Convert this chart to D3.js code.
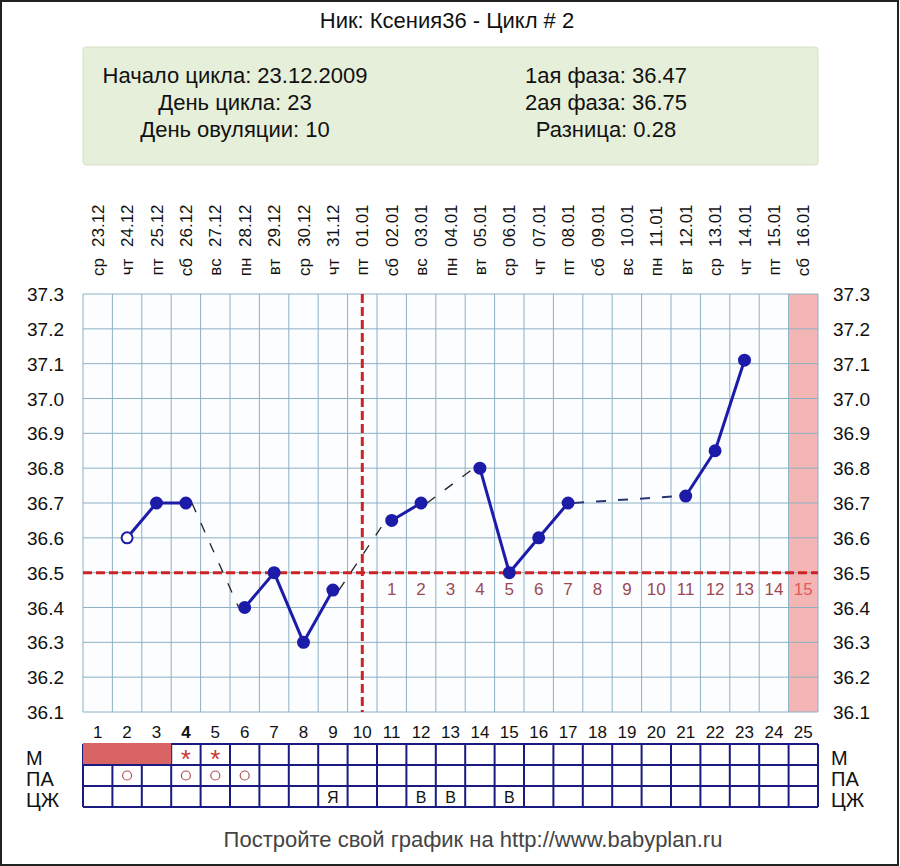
<!DOCTYPE html>
<html>
<head>
<meta charset="utf-8">
<script src="https://cdn.jsdelivr.net/npm/d3@7"></script>
<style>
body { margin: 0; background: #fff; }
svg { display: block; font-family: Arial, "Liberation Sans", sans-serif; }
</style>
</head>
<body>
<svg id="chart" width="900" height="866"></svg>
<script>
// chart data
var days = d3.range(1, 26);
var dates = ["23.12","24.12","25.12","26.12","27.12","28.12","29.12","30.12","31.12","01.01",
             "02.01","03.01","04.01","05.01","06.01","07.01","08.01","09.01","10.01","11.01",
             "12.01","13.01","14.01","15.01","16.01"];
var weekdays = ["ср","чт","пт","сб","вс","пн","вт","ср","чт","пт","сб","вс","пн","вт",
                "ср","чт","пт","сб","вс","пн","вт","ср","чт","пт","сб"];
var temps = [null,36.6,36.7,36.7,null,36.4,36.5,36.3,36.45,null,36.65,36.7,null,36.8,36.5,
             36.6,36.7,null,null,null,36.72,36.85,37.11,null,null];
var yTicks = [36.1,36.2,36.3,36.4,36.5,36.6,36.7,36.8,36.9,37.0,37.1,37.2,37.3];
var coverline = 36.5;
var ovulationDay = 10;
var menstruation = [1, 2, 3];
var spotting = [4, 5];
var pa = [2, 4, 5, 6];
var cm = [[9, "Я"], [12, "В"], [13, "В"], [15, "В"]];
var infoLeft = ["Начало цикла: 23.12.2009", "День цикла: 23", "День овуляции: 10"];
var infoRight = ["1ая фаза: 36.47", "2ая фаза: 36.75", "Разница: 0.28"];
var rowLabels = ["М", "ПА", "ЦЖ"];
var predictedDay = 25;

var plot_left = 83, plot_right = 818, plot_top = 294, plot_bottom = 712;
var grid_color = "#8db0c4";
var line_color = "#1c1ca8";
var red = "#cc2424";

var svg = d3.select("#chart");

var x = d3.scaleLinear().domain([0.5, 25.5]).range([plot_left, plot_right]);
var y = d3.scaleLinear().domain([36.1, 37.3]).range([plot_bottom, plot_top]);
var colW = x(2) - x(1);

// frame of picture
svg.append("rect").attr("x", 1).attr("y", 1).attr("width", 897).attr("height", 864)
    .attr("fill", "none").attr("stroke", "#222").attr("stroke-width", 2);

// title
svg.append("text").attr("x", 447).attr("y", 28).attr("text-anchor", "middle")
    .attr("font-size", 22).attr("fill", "#111").text("Ник: Ксения36 - Цикл # 2");

// info box
svg.append("rect").attr("x", 83).attr("y", 47).attr("width", 735).attr("height", 118)
    .attr("rx", 3).attr("fill", "#e6efd9").attr("stroke", "#d6e2c6");
svg.selectAll(".info_l").data(infoLeft).enter().append("text")
    .attr("x", 235).attr("y", (d, i) => 83 + i * 27)
    .attr("text-anchor", "middle").attr("font-size", 22).attr("fill", "#111").text(d => d);
svg.selectAll(".info_r").data(infoRight).enter().append("text")
    .attr("x", 606).attr("y", (d, i) => 83 + i * 27)
    .attr("text-anchor", "middle").attr("font-size", 22).attr("fill", "#111").text(d => d);

// date + weekday labels (rotated)
svg.selectAll(".date").data(dates).enter().append("text")
    .attr("transform", (d, i) => "translate(" + (x(i + 1) + 6) + ",247) rotate(-90)")
    .attr("font-size", 17).attr("fill", "#111").text(d => d);
svg.selectAll(".wd").data(weekdays).enter().append("text")
    .attr("transform", (d, i) => "translate(" + (x(i + 1) + 6) + ",267) rotate(-90)")
    .attr("text-anchor", "middle").attr("font-size", 17).attr("fill", "#111").text(d => d);

// plot background
svg.append("rect").attr("x", plot_left).attr("y", plot_top)
    .attr("width", plot_right - plot_left).attr("height", plot_bottom - plot_top)
    .attr("fill", "#fbfdff");
svg.append("rect").attr("x", x(predictedDay - 0.5)).attr("y", plot_top)
    .attr("width", colW).attr("height", plot_bottom - plot_top).attr("fill", "#f4b6b4");

// grid
svg.selectAll(".vgrid").data(d3.range(0, 26)).enter().append("line")
    .attr("x1", d => x(d + 0.5)).attr("x2", d => x(d + 0.5))
    .attr("y1", plot_top).attr("y2", plot_bottom)
    .attr("stroke", grid_color).attr("stroke-width", 1);
svg.selectAll(".hgrid").data(yTicks).enter().append("line")
    .attr("x1", plot_left).attr("x2", plot_right)
    .attr("y1", d => y(d)).attr("y2", d => y(d))
    .attr("stroke", grid_color).attr("stroke-width", 1);

// y labels both sides
svg.selectAll(".yl").data(yTicks).enter().append("text")
    .attr("x", 27).attr("y", d => y(d) + 7).attr("font-size", 19).attr("fill", "#111")
    .text(d => d.toFixed(1));
svg.selectAll(".yr").data(yTicks).enter().append("text")
    .attr("x", 833).attr("y", d => y(d) + 7).attr("font-size", 19).attr("fill", "#111")
    .text(d => d.toFixed(1));

// days after ovulation
svg.selectAll(".post").data(days.filter(d => d > ovulationDay)).enter().append("text")
    .attr("x", d => x(d)).attr("y", y(coverline) + 22).attr("text-anchor", "middle")
    .attr("font-size", 17)
    .attr("fill", d => d == predictedDay ? "#e05a5a" : "#9c4a52")
    .text(d => d - ovulationDay);

// coverline + ovulation line
svg.append("line").attr("x1", plot_left).attr("x2", plot_right)
    .attr("y1", y(coverline)).attr("y2", y(coverline))
    .attr("stroke", red).attr("stroke-width", 3).attr("stroke-dasharray", "9,4");
svg.append("line").attr("x1", x(ovulationDay)).attr("x2", x(ovulationDay))
    .attr("y1", plot_top).attr("y2", plot_bottom)
    .attr("stroke", red).attr("stroke-width", 3).attr("stroke-dasharray", "9,4");

// temperature lines
var pts = [];
temps.forEach((t, i) => { if (t != null) pts.push({ day: i + 1, t: t }); });
var solid = [], gaps = [];
for (var i = 1; i < pts.length; i++) {
    if (pts[i].day - pts[i - 1].day == 1) solid.push([pts[i - 1], pts[i]]);
    else gaps.push([pts[i - 1], pts[i]]);
}
svg.selectAll(".gap").data(gaps).enter().append("line")
    .attr("x1", d => x(d[0].day) + 6).attr("y1", d => y(d[0].t))
    .attr("x2", d => x(d[1].day) - 6).attr("y2", d => y(d[1].t))
    .attr("stroke", d => d[1].day - d[0].day > 2 ? "#2a3578" : "#222")
    .attr("stroke-width", d => d[1].day - d[0].day > 2 ? 2 : 1.3)
    .attr("stroke-dasharray", "10,12");
svg.selectAll(".seg").data(solid).enter().append("line")
    .attr("x1", d => x(d[0].day)).attr("y1", d => y(d[0].t))
    .attr("x2", d => x(d[1].day)).attr("y2", d => y(d[1].t))
    .attr("stroke", line_color).attr("stroke-width", 3);
svg.selectAll(".pt").data(pts).enter().append("circle")
    .attr("cx", d => x(d.day)).attr("cy", d => y(d.t)).attr("r", 5.5)
    .attr("fill", (d, i) => i == 0 ? "#fff" : line_color)
    .attr("stroke", line_color).attr("stroke-width", 2);

// day numbers
svg.selectAll(".dn").data(days).enter().append("text")
    .attr("x", d => x(d)).attr("y", 738).attr("text-anchor", "middle")
    .attr("font-size", 17).attr("font-weight", d => d == 4 ? "bold" : "normal")
    .attr("fill", "#111").text(d => d);

// bottom table
var rowTop = 744, rowH = 21;
svg.selectAll(".tvl").data(d3.range(0, 26)).enter().append("line")
    .attr("x1", d => x(d + 0.5)).attr("x2", d => x(d + 0.5))
    .attr("y1", rowTop).attr("y2", rowTop + 3 * rowH)
    .attr("stroke", "#1a1a80").attr("stroke-width", 2);
svg.selectAll(".thl").data(d3.range(0, 4)).enter().append("line")
    .attr("x1", plot_left).attr("x2", plot_right)
    .attr("y1", d => rowTop + d * rowH).attr("y2", d => rowTop + d * rowH)
    .attr("stroke", "#1a1a80").attr("stroke-width", 2);
svg.append("rect")
    .attr("x", x(d3.min(menstruation) - 0.5)).attr("y", rowTop - 1)
    .attr("width", x(d3.max(menstruation) + 0.5) - x(d3.min(menstruation) - 0.5))
    .attr("height", rowH).attr("fill", "#d86464");
svg.selectAll(".spot").data(spotting).enter().append("text")
    .attr("x", d => x(d)).attr("y", rowTop + 24).attr("text-anchor", "middle")
    .attr("font-size", 26).attr("fill", "#c83838").text("*");
svg.selectAll(".pa").data(pa).enter().append("circle")
    .attr("cx", d => x(d)).attr("cy", rowTop + rowH * 1.5).attr("r", 4.5)
    .attr("fill", "none").attr("stroke", "#b05050").attr("stroke-width", 1.2);
svg.selectAll(".cm").data(cm).enter().append("text")
    .attr("x", d => x(d[0])).attr("y", rowTop + rowH * 2.5 + 6).attr("text-anchor", "middle")
    .attr("font-size", 16).attr("fill", "#111").text(d => d[1]);

svg.selectAll(".rl").data(rowLabels).enter().append("text")
    .attr("x", 26).attr("y", (d, i) => 765 + i * 21).attr("font-size", 20).attr("fill", "#111")
    .text(d => d);
svg.selectAll(".rr").data(rowLabels).enter().append("text")
    .attr("x", 831).attr("y", (d, i) => 765 + i * 21).attr("font-size", 20).attr("fill", "#111")
    .text(d => d);

// footer
svg.append("text").attr("x", 473).attr("y", 847).attr("text-anchor", "middle")
    .attr("font-size", 22).attr("fill", "#444")
    .text("Постройте свой график на http://www.babyplan.ru");
</script>
</body>
</html>
